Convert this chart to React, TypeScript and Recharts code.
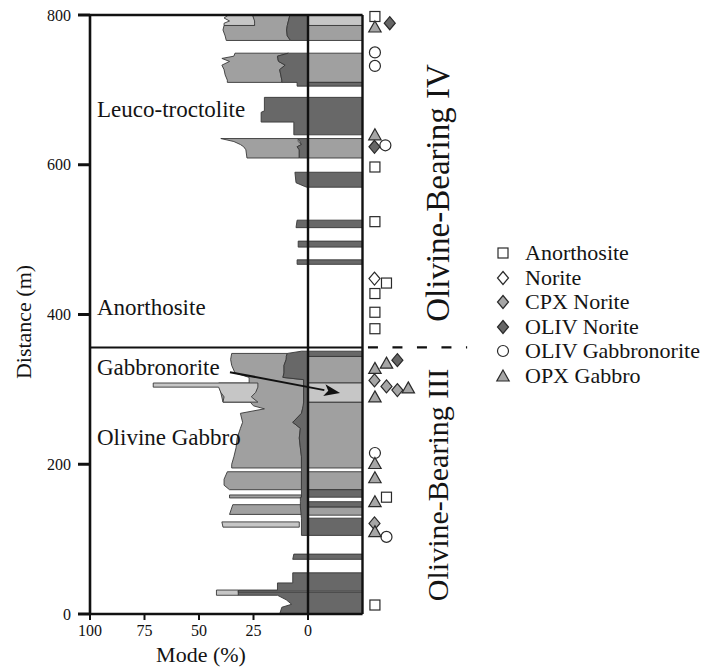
import React from "react";
import { ComposedChart, Area, Scatter, XAxis, YAxis, ReferenceLine } from "recharts";

// each row: [distance (m), left edge (mode %), right edge (mode %)]; left of 0 is negative
type Row = [number, number, number];

const lightBlocks: Row[][] = [
  [[800, -36.5, -25.5], [796, -38.5, -25], [792, -36, -24.5], [789, -38.5, -24.5], [786, -38.5, -24.5]],
  [[800, 0, 25], [786, 0, 25]],
  [[308.5, -71, -23], [303, -71, -23], [303, -41, -23], [296, -40, -24], [290, -38.5, -26], [283, -39, -23]],
  [[308.5, 0, 25], [283, 0, 25]],
  [[123, -39.5, -4], [116, -39, -4]],
  [[32, -42, -32], [25, -42, -32]],
  [[30.5, -32, 25], [29, -32, 25]],
];

const mediumBlocks: Row[][] = [
  [[800, -25.5, -8.3], [786, -24.5, -9.5], [786, -38.5, -9.5], [780, -39, -9.8], [772, -38, -9.5], [766, -37.5, -8]],
  [[786, 0, 25], [766, 0, 25]],
  [[749, -33.5, -9], [745, -34, -14], [742, -39.5, -14], [738, -36, -13.5], [733, -39.5, -10.5], [727, -38.5, -13], [720, -38, -12.5], [713, -37, -12], [710, -37, -12]],
  [[749, 0, 25], [710, 0, 25]],
  [[635, -40, -4.5], [631, -34, -4.5], [627, -31, -3], [624, -29.5, -5], [620, -28.5, -4], [609, -28, -4]],
  [[635, 0, 25], [609, 0, 25]],
  [[348, -35, -9.5], [340, -35.5, -10], [332, -35, -11], [322, -33.5, -11], [316, -27, -11.5], [313, -27, -2], [308.5, -27, -2], [308.5, -41, -2], [283, -39, -2], [283, -26.5, -2], [278, -25, -2], [274, -20, -2.5], [268, -31, -3], [256, -30, -7], [248, -31, -3.5], [235, -32.5, -4], [222, -33, -3.5], [210, -34, -3], [200, -35, -3], [195, -35, -3]],
  [[344, 0, 25], [308.5, 0, 25]],
  [[283, 0, 25], [195, 0, 25]],
  [[190, -37, -3], [180, -38.5, -3], [172, -38.5, -3], [166, -36, -3]],
  [[190, 0, 25], [166, 0, 25]],
  [[159, -36, -3], [155, -36, -3]],
  [[146, -34.5, -3], [133, -36, -3]],
  [[143, 0, 25], [132, 0, 25]],
];

const darkBlocks: Row[][] = [
  [[800, -8.3, 0], [786, -9.5, 0], [780, -9.8, 0], [772, -9.5, 0], [766, -8, 0]],
  [[749, -9, 0], [745, -14, 0], [738, -13.5, 0], [733, -10.5, 0], [727, -13, 0], [720, -12.5, 0], [713, -12, 0], [710, -12, 0], [710, -5, 25], [705, -5, 25]],
  [[690, -20, 25], [672, -20, 25], [670, -21.5, 25], [657, -21.5, 25], [657, -6.5, 25], [640, -6.5, 25]],
  [[635, -4.5, 0], [627, -3, 0], [624, -5, 0], [620, -4, 0], [609, -4, 0]],
  [[590, -6, 25], [576, -5.5, 25], [571, -1.5, 25], [570, -0.5, 25]],
  [[526, -5, 25], [516, -5.5, 25]],
  [[498, -4.5, 25], [490, -4.5, 25]],
  [[473, -5, 25], [467, -5, 25]],
  [[351, -3, 25], [348, -9.5, 25], [344, -10, 25], [344, -10, 0], [340, -10, 0], [332, -11, 0], [322, -11, 0], [316, -11.5, 0], [313, -2, 0], [283, -2, 0], [274, -2.5, 0], [268, -3, 0], [256, -7, 0], [248, -3.5, 0], [235, -4, 0], [222, -3.5, 0], [210, -3, 0], [195, -3, 0], [166, -3, 0], [166, -3, 25], [156, -3, 25], [156, -3.5, 0], [150, -3.5, 0], [150, -3.5, 25], [143, -3.5, 25], [143, -3.5, 0], [128, -3, 0], [128, -3, 25], [105, -3, 25]],
  [[80, -6.5, 25], [73, -7, 25]],
  [[55, -7, 25], [41.5, -7, 25], [41.5, -14, 25], [32, -14, 25], [32, -32, 25], [25, -32, 25], [25, -14, 25], [19, -10, 25], [13, -7.5, 25], [9, -12, 25], [0, -13, 25]],
];

// sample markers: x = column to the right of the log, d = distance (m)
const anorthosite = [
  { x: 30.7, d: 798 }, { x: 30.7, d: 597 }, { x: 30.7, d: 524 }, { x: 36, d: 442 },
  { x: 30.7, d: 428 }, { x: 30.7, d: 403 }, { x: 30.7, d: 381 }, { x: 36, d: 156 }, { x: 30.7, d: 12 },
];
const norite = [{ x: 30.5, d: 448 }];
const cpxNorite = [{ x: 30.5, d: 312 }, { x: 36, d: 304 }, { x: 41, d: 299 }, { x: 30.5, d: 121 }];
const olivNorite = [{ x: 37.5, d: 789 }, { x: 30.5, d: 624 }, { x: 41, d: 339 }];
const olivGabbronorite = [
  { x: 30.7, d: 750 }, { x: 30.7, d: 732 }, { x: 35.5, d: 626 }, { x: 30.7, d: 215 }, { x: 36, d: 103 },
];
const opxGabbro = [
  { x: 30.7, d: 784 }, { x: 30.7, d: 640 }, { x: 30.7, d: 328 }, { x: 36, d: 335 }, { x: 46, d: 302 },
  { x: 30.7, d: 290 }, { x: 30.7, d: 201 }, { x: 30.7, d: 182 }, { x: 30.7, d: 150 }, { x: 30.7, d: 110 },
];

const xTicks = [-100, -75, -50, -25, 0];
const yTicks = [0, 200, 400, 600, 800];
const contactDepth = 356;

const LIGHT = "#c6c6c6";
const MEDIUM = "#a0a0a0";
const DARK = "#686868";
const EDGE = "#383838";

type Kind = "square" | "diamond" | "circle" | "triangle";
const series: { name: string; data: { x: number; d: number }[]; kind: Kind; fill: string }[] = [
  { name: "Anorthosite", data: anorthosite, kind: "square", fill: "#fff" },
  { name: "Norite", data: norite, kind: "diamond", fill: "#fff" },
  { name: "CPX Norite", data: cpxNorite, kind: "diamond", fill: "#a6a6a6" },
  { name: "OLIV Norite", data: olivNorite, kind: "diamond", fill: "#666" },
  { name: "OLIV Gabbronorite", data: olivGabbronorite, kind: "circle", fill: "#fff" },
  { name: "OPX Gabbro", data: opxGabbro, kind: "triangle", fill: "#a6a6a6" },
];

// turn blocks into one area series; rows of [null, null] break both edges between blocks
function toAreaData(blocks: Row[][]) {
  const out: { d: number; v: [number | null, number | null] }[] = [];
  blocks.forEach((rows, i) => {
    if (i > 0) out.push({ d: rows[0][0], v: [null, null] });
    const first = rows[0];
    const last = rows[rows.length - 1];
    out.push({ d: first[0], v: [first[1], first[1]] });
    rows.forEach(([d, a, b]) => out.push({ d, v: [a, b] }));
    out.push({ d: last[0], v: [last[1], last[1]] });
  });
  return out;
}

function Marker({ cx, cy, kind, fill }: { cx: number; cy: number; kind: Kind; fill: string }) {
  const p = { fill, stroke: "#2a2a2a", strokeWidth: 1.2 };
  if (kind === "square") return <rect x={cx - 5} y={cy - 5} width={10} height={10} {...p} />;
  if (kind === "circle") return <circle cx={cx} cy={cy} r={5.5} {...p} />;
  if (kind === "diamond")
    return <polygon points={`${cx},${cy - 6.5} ${cx + 5.5},${cy} ${cx},${cy + 6.5} ${cx - 5.5},${cy}`} {...p} />;
  return <polygon points={`${cx},${cy - 6} ${cx + 6.2},${cy + 5} ${cx - 6.2},${cy + 5}`} {...p} />;
}

function Arrow(props: any) {
  const { x1, y1, x2, y2 } = props;
  const a = Math.atan2(y2 - y1, x2 - x1);
  const len = 16;
  const w = 6;
  const bx = x2 - len * Math.cos(a);
  const by = y2 - len * Math.sin(a);
  const nx = -Math.sin(a) * w;
  const ny = Math.cos(a) * w;
  return (
    <g>
      <line x1={x1} y1={y1} x2={bx} y2={by} stroke="#111" strokeWidth={2} />
      <polygon points={`${x2},${y2} ${bx + nx},${by + ny} ${bx + 4 * Math.cos(a)},${by + 4 * Math.sin(a)} ${bx - nx},${by - ny}`} fill="#111" />
    </g>
  );
}

const font = "'Liberation Serif', 'Times New Roman', serif";

export default function App() {
  const areaProps = {
    dataKey: "v",
    stroke: EDGE,
    strokeWidth: 0.9,
    fillOpacity: 1,
    dot: false,
    activeDot: false,
    isAnimationActive: false,
    connectNulls: false,
  } as const;
  const line = { stroke: "#111", strokeWidth: 2.4 };

  return (
    <div style={{ position: "absolute", left: 0, top: 0, width: 702, height: 668, background: "#fff", fontFamily: font }}>
      <ComposedChart
        width={702}
        height={668}
        layout="vertical"
        margin={{ top: 15, right: 219.6, bottom: 24, left: 30 }}
      >
        <XAxis
          type="number"
          domain={[-100, 80]}
          ticks={xTicks}
          interval={0}
          tickFormatter={(v: number) => String(Math.abs(v))}
          axisLine={false}
          tickLine={{ stroke: "#111", strokeWidth: 2 }}
          tickSize={6}
          tickMargin={5}
          height={30}
          tick={{ fill: "#111", fontSize: 16 }}
        />
        <YAxis
          type="number"
          dataKey="d"
          domain={[0, 800]}
          ticks={yTicks}
          interval={0}
          reversed
          width={60}
          axisLine={{ stroke: "#111", strokeWidth: 2.6 }}
          tickLine={{ stroke: "#111", strokeWidth: 3 }}
          tickSize={12}
          tickMargin={7}
          tick={{ fill: "#111", fontSize: 16 }}
        />
        <Area {...areaProps} data={toAreaData(mediumBlocks)} fill={MEDIUM} />
        <Area {...areaProps} data={toAreaData(darkBlocks)} fill={DARK} />
        <Area {...areaProps} data={toAreaData(lightBlocks)} fill={LIGHT} />
        {series.map((s) => (
          <Scatter
            key={s.name}
            name={s.name}
            data={s.data}
            dataKey="x"
            isAnimationActive={false}
            shape={(p: any) => <Marker cx={p.cx} cy={p.cy} kind={s.kind} fill={s.fill} />}
          />
        ))}
        <ReferenceLine segment={[{ x: 0, y: 0 }, { x: 0, y: 800 }]} {...line} />
        <ReferenceLine segment={[{ x: 25, y: 0 }, { x: 25, y: 800 }]} {...line} />
        <ReferenceLine segment={[{ x: -100, y: 800 }, { x: 25, y: 800 }]} {...line} />
        <ReferenceLine segment={[{ x: -100, y: 0 }, { x: 25, y: 0 }]} {...line} />
        <ReferenceLine segment={[{ x: -100, y: contactDepth }, { x: 25, y: contactDepth }]} stroke="#111" strokeWidth={2} />
        <ReferenceLine
          segment={[{ x: 27.5, y: contactDepth }, { x: 73, y: contactDepth }]}
          stroke="#111"
          strokeWidth={2.2}
          strokeDasharray="10 14.5"
        />
        <ReferenceLine segment={[{ x: -35.8, y: 323 }, { x: 14.7, y: 295 }]} shape={Arrow} />
      </ComposedChart>

      <svg
        width={702}
        height={668}
        style={{ position: "absolute", left: 0, top: 0, pointerEvents: "none" }}
        fontFamily={font}
        fill="#141414"
      >
        <text x={97} y={117} fontSize={23}>Leuco-troctolite</text>
        <text x={97} y={315} fontSize={23}>Anorthosite</text>
        <text x={97} y={375} fontSize={23}>Gabbronorite</text>
        <text x={97} y={445} fontSize={23}>Olivine Gabbro</text>
        <text transform="translate(31,322) rotate(-90)" textAnchor="middle" fontSize={22}>Distance (m)</text>
        <text x={201} y={662} textAnchor="middle" fontSize={22}>Mode (%)</text>
        <text transform="translate(449,193) rotate(-90)" textAnchor="middle" fontSize={33}>Olivine-Bearing IV</text>
        <text transform="translate(448,485) rotate(-90)" textAnchor="middle" fontSize={30}>Olivine-Bearing III</text>
      </svg>

      <div style={{ position: "absolute", left: 494, top: 241, fontSize: 22, color: "#141414", lineHeight: "24.5px" }}>
        {series.map((s) => (
          <div key={s.name} style={{ display: "flex", alignItems: "center", height: 24.5 }}>
            <svg width={18} height={18} style={{ marginRight: 13 }}>
              <Marker cx={9} cy={9} kind={s.kind} fill={s.fill} />
            </svg>
            <span>{s.name}</span>
          </div>
        ))}
      </div>
    </div>
  );
}
